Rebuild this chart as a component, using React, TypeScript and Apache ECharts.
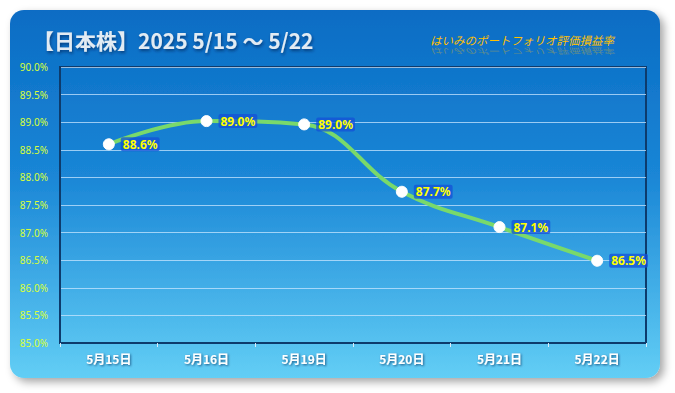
import React, { useEffect, useRef } from "react";
import * as echarts from "echarts";

const categories = ["5月15日", "5月16日", "5月19日", "5月20日", "5月21日", "5月22日"];
const values = [88.6, 89.02, 88.96, 87.74, 87.1, 86.49];
const titleText = "【日本株】2025 5/15 〜 5/22";
const subtitleText = "はいみのポートフォリオ評価損益率";
const yMin = 85;
const yMax = 90;
const yInterval = 0.5;

export default function App() {
  const ref = useRef<HTMLDivElement>(null);
  useEffect(() => {
    document.body.style.margin = "0";
    const chart = echarts.init(ref.current!, null, { renderer: "svg" });
    const bg = new echarts.graphic.LinearGradient(0, 0, 0, 1, [
      { offset: 0, color: "#0a6cc4" },
      { offset: 0.45, color: "#1a86d6" },
      { offset: 1, color: "#62cef5" },
    ]);
    chart.setOption({
      animation: false,
      backgroundColor: "#ffffff",
      graphic: [
        {
          type: "rect",
          shape: { x: 10, y: 10, width: 650, height: 368, r: 14 },
          style: {
            fill: bg,
            shadowColor: "rgba(0,0,0,0.35)",
            shadowBlur: 8,
            shadowOffsetX: 4,
            shadowOffsetY: 4,
          },
          z: -10,
        },
        {
          type: "text",
          x: 33,
          y: 40,
          style: {
            text: titleText,
            fill: "#e2ebf3",
            font: "bold 21px 'Noto Sans CJK JP', sans-serif",
            verticalAlign: "middle",
            textShadowColor: "rgba(0,30,80,0.6)",
            textShadowBlur: 3,
            textShadowOffsetX: 1,
            textShadowOffsetY: 2,
          },
          z: 10,
        },
        {
          type: "text",
          x: 430,
          y: 40,
          style: {
            text: subtitleText,
            fill: "#ffc000",
            font: "italic 11.5px 'Noto Sans CJK JP', sans-serif",
            verticalAlign: "middle",
          },
          z: 10,
        },
        {
          type: "text",
          x: 430,
          y: 52,
          scaleY: -0.7,
          style: {
            text: subtitleText,
            fill: "rgba(255,192,0,0.35)",
            font: "italic 11.5px 'Noto Sans CJK JP', sans-serif",
            verticalAlign: "middle",
          },
          z: 9,
        },
      ],
      grid: {
        left: 60,
        right: 29,
        top: 67,
        bottom: 50,
        show: true,
        borderColor: "#0d3b6c",
        borderWidth: 2,
        backgroundColor: "transparent",
      },
      xAxis: {
        type: "category",
        data: categories,
        boundaryGap: true,
        axisLine: { show: true, lineStyle: { color: "#0d3b6c", width: 2 } },
        axisTick: { show: true, length: 4, lineStyle: { color: "#d8ecfa", width: 1 } },
        axisLabel: {
          color: "#ffffff",
          fontSize: 12,
          fontWeight: "bold",
          fontFamily: "'Noto Sans CJK JP', sans-serif",
          margin: 9,
          textShadowColor: "rgba(0,40,90,0.7)",
          textShadowBlur: 2,
          textShadowOffsetX: 1,
          textShadowOffsetY: 1,
        },
      },
      yAxis: {
        type: "value",
        min: yMin,
        max: yMax,
        interval: yInterval,
        axisLine: { show: true, lineStyle: { color: "#0d3b6c", width: 2 } },
        axisTick: { show: false },
        axisLabel: {
          color: "#d8ff3a",
          fontSize: 10,
          fontFamily: "'Noto Sans', sans-serif",
          margin: 12,
          formatter: (v: number) => v.toFixed(1) + "%",
        },
        splitLine: { lineStyle: { color: "rgba(200,230,255,0.75)", width: 1 } },
      },
      series: [
        {
          type: "line",
          data: values,
          smooth: 0.4,
          lineStyle: { color: "#79d96b", width: 4 },
          itemStyle: { color: "#ffffff", borderColor: "#ffffff" },
          symbol: "circle",
          symbolSize: 11,
          label: {
            show: true,
            position: "right",
            distance: 6,
            color: "#ffff00",
            fontSize: 12,
            fontWeight: "bold",
            fontFamily: "'Noto Sans', sans-serif",
            backgroundColor: "rgba(20,80,215,0.75)",
            padding: [1, 2],
            borderRadius: 2,
            formatter: (p: any) => p.value.toFixed(1) + "%",
          },
          z: 5,
        },
      ],
    });
    return () => chart.dispose();
  }, []);
  return (
    <div
      ref={ref}
      style={{ position: "fixed", left: 0, top: 0, width: 675, height: 393 }}
    />
  );
}
